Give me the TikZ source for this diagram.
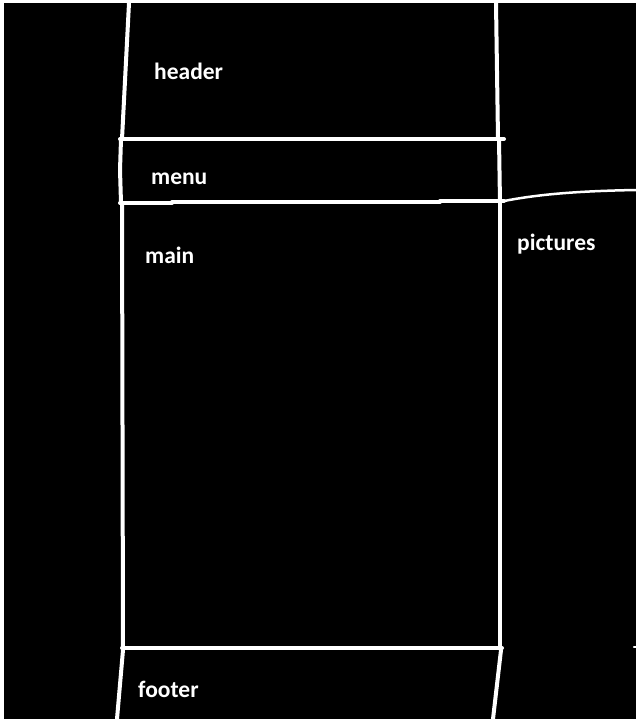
\documentclass[tikz,border=0pt]{standalone}
\usepackage{fontspec}
\setmainfont{Carlito}
\usetikzlibrary{positioning}
\tikzset{
  pen/.style={draw=white, line width=4pt, line cap=round, line join=round},
  thin pen/.style={draw=white, line width=2.5pt, line cap=round},
  lbl/.style={text=white, font=\bfseries\fontsize{23.5}{28}\selectfont, anchor=base west, inner sep=0pt},
}
\begin{document}
\begin{tikzpicture}[x=1pt, y=-1pt]
  % ---------------- canvas ----------------
  \useasboundingbox (0,0) rectangle (640,723);
  \fill[white] (0,0) rectangle (640,723);
  \fill[black] (4,3) rectangle (636,719);

  % ---------------- header ----------------
  \draw[pen] (129,3) -- (122,139);
  \draw[pen] (496,3) -- (498,139);
  \draw[pen] (120,139) -- (504,139);
  \node[lbl] (header) at (154,79) {header};

  % ---------------- menu ----------------
  \draw[pen] (121,139) -- (120,170) -- (121,203);
  \draw[pen] (499,139) -- (500,203);
  \draw[pen] (120,203) -- (172,203) -- (172,202) -- (440,202) -- (440,201) -- (504,201);
  \node[lbl] (menu) at (151,184) {menu};

  % ---------------- main ----------------
  \draw[pen] (122,203) -- (123,648);
  \draw[pen] (500,201) -- (500,648);
  \draw[pen] (122,648) -- (502,648);
  \node[lbl] (main) at (145,263) {main};

  % ---------------- pictures ----------------
  \draw[thin pen] (504,201) .. controls (540,194) and (580,191) .. (636,190);
  \draw[thin pen] (634,647) -- (636,647);
  \node[lbl] (pictures) at (517,250) {pictures};

  % ---------------- footer ----------------
  \draw[pen] (123,650) -- (117,719);
  \draw[pen] (501,650) -- (493,719);
  \node[lbl] (footer) at (138,697) {footer};
\end{tikzpicture}
\end{document}
